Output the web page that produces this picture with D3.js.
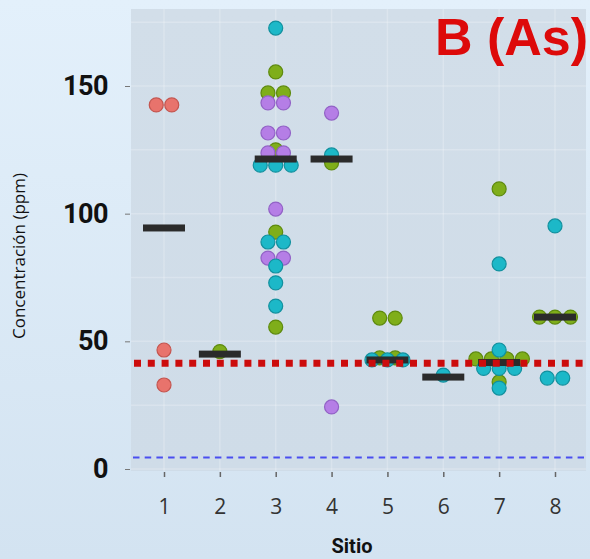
<!DOCTYPE html>
<html>
<head>
    <title>B (As)</title>
    <script src="https://cdnjs.cloudflare.com/ajax/libs/d3/7.8.5/d3.min.js"></script>
    <style>
        body { margin: 0; }
        #chart { width: 590px; height: 559px; }
        .ytick text { font-family: Roboto, "Liberation Sans", sans-serif; font-weight: bold; font-size: 27px; fill: #111; letter-spacing: -0.5px; }
        .xtick text { font-family: "Open Sans", "Noto Sans", sans-serif; font-size: 21px; fill: #333; }
    </style>
</head>
<body>
    <div id="chart"></div>
    <script>
// sites on the x axis
const sites = [1, 2, 3, 4, 5, 6, 7, 8];
const yTicks = [0, 50, 100, 150];

// measured points, [site, ppm]
const redPts = [
    [1, 142.6], [1, 142.6], [1, 46.6], [1, 32.9]
];
const greenPts = [
    [2, 46],
    [3, 155.5], [3, 147.3], [3, 147.3], [3, 125], [3, 92.8], [3, 55.6],
    [4, 119.9],
    [5, 59.1], [5, 59.1], [5, 43.5], [5, 43.5],
    [7, 109.7], [7, 43.1], [7, 43.1], [7, 43.1], [7, 43.1], [7, 34.1],
    [8, 59.5], [8, 59.5], [8, 59.5]
];
const purplePts = [
    [3, 143.4], [3, 143.4], [3, 131.6], [3, 131.6], [3, 123.8], [3, 123.8],
    [3, 101.8], [3, 82.6], [3, 82.6],
    [4, 139.4], [4, 24.3]
];
const cyanPts = [
    [3, 172.7], [3, 119], [3, 119], [3, 119], [3, 88.9], [3, 88.9],
    [3, 79.5], [3, 72.9], [3, 63.8],
    [4, 123],
    [5, 42.7], [5, 42.7], [5, 42.7],
    [6, 36.8],
    [7, 80.3], [7, 46.6], [7, 39.4], [7, 39.4], [7, 39.4], [7, 31.7],
    [8, 95.2], [8, 35.6], [8, 35.6]
];
// median bar per site
const medians = [94.4, 45, 121.4, 121.4, 42.7, 36, 41.7, 59.5];
// reference lines
const redLimit = 41.4;
const blueLimit = 4.5;

const series = [
    { pts: redPts, fill: '#e8736c', stroke: '#c4554f' },
    { pts: greenPts, fill: '#7fae1a', stroke: '#5e8a0e' },
    { pts: purplePts, fill: '#b57ee6', stroke: '#9262c6' },
    { pts: cyanPts, fill: '#1cb8c8', stroke: '#12909e' }
];

const W = 590, H = 559;
const panel = { x0: 131, x1: 586, y0: 9, y1: 471 };

const svg = d3.select('#chart').append('svg')
    .attr('width', W)
    .attr('height', H);

const defs = svg.append('defs');
const bg = defs.append('linearGradient').attr('id', 'bg').attr('x1', 0).attr('y1', 0).attr('x2', 0).attr('y2', 1);
bg.append('stop').attr('offset', 0).attr('stop-color', '#e3f0fb');
bg.append('stop').attr('offset', 1).attr('stop-color', '#d3e3f1');
const pg = defs.append('linearGradient').attr('id', 'pg').attr('x1', 0).attr('y1', 0).attr('x2', 0).attr('y2', 1);
pg.append('stop').attr('offset', 0).attr('stop-color', '#d2dee9');
pg.append('stop').attr('offset', 1).attr('stop-color', '#cfdce8');

svg.append('rect').attr('width', W).attr('height', H).attr('fill', 'url(#bg)');
svg.append('rect')
    .attr('x', panel.x0).attr('y', panel.y0)
    .attr('width', panel.x1 - panel.x0).attr('height', panel.y1 - panel.y0)
    .attr('fill', 'url(#pg)');

const x = d3.scaleLinear().domain([1, 8]).range([164, 555]);
const y = d3.scaleLinear().domain([0, 150]).range([469, 86]);

// faint grid
const grid = svg.append('g').attr('stroke', '#ffffff').attr('stroke-opacity', 0.22).attr('stroke-width', 1.5);
grid.selectAll('line.v').data(sites).join('line').attr('class', 'v')
    .attr('x1', d => x(d)).attr('x2', d => x(d))
    .attr('y1', panel.y0).attr('y2', panel.y1);
grid.selectAll('line.h').data(d3.range(0, 176, 25)).join('line').attr('class', 'h')
    .attr('x1', panel.x0).attr('x2', panel.x1)
    .attr('y1', d => y(d)).attr('y2', d => y(d));

// axes
const yAxis = svg.append('g')
    .attr('class', 'ytick')
    .attr('transform', 'translate(130,0)')
    .call(d3.axisLeft(y).tickValues(yTicks).tickSize(5).tickPadding(17).tickFormat(d3.format('d')));
yAxis.select('.domain').remove();
yAxis.selectAll('.tick line').attr('stroke', '#777');

const xAxis = svg.append('g')
    .attr('class', 'xtick')
    .attr('transform', 'translate(0,472)')
    .call(d3.axisBottom(x).tickValues(sites).tickSize(5).tickPadding(22).tickFormat(d3.format('d')));
xAxis.select('.domain').remove();
xAxis.selectAll('.tick line').attr('stroke', '#666').attr('stroke-width', 1.5);

// blue dashed line
svg.append('line')
    .attr('x1', panel.x0 + 2).attr('x2', panel.x1 - 2)
    .attr('y1', y(blueLimit)).attr('y2', y(blueLimit))
    .attr('stroke', '#4a4ef0').attr('stroke-width', 2)
    .attr('stroke-dasharray', '6.5,5.2');

// spread points that share the same site and value
const spacing = 15.5;
const groups = {};
series.forEach(s => s.pts.forEach(p => {
    const k = p[0] + '|' + p[1];
    groups[k] = (groups[k] || 0) + 1;
}));
const used = {};
function dodge(p) {
    const k = p[0] + '|' + p[1];
    const i = used[k] || 0;
    used[k] = i + 1;
    return (i - (groups[k] - 1) / 2) * spacing;
}

const r = 7;
series.forEach(s => {
    svg.append('g').selectAll('circle')
        .data(s.pts.map(p => ({ site: p[0], v: p[1], dx: dodge(p) })))
        .join('circle')
        .attr('cx', d => x(d.site) + d.dx)
        .attr('cy', d => y(d.v))
        .attr('r', r)
        .attr('fill', s.fill)
        .attr('stroke', s.stroke)
        .attr('stroke-width', 1.2);
});

// median bars
const barW = 42, barH = 7;
svg.append('g').selectAll('rect')
    .data(sites)
    .join('rect')
    .attr('x', d => x(d) - barW / 2)
    .attr('y', (d, i) => y(medians[i]) - barH / 2)
    .attr('width', barW)
    .attr('height', barH)
    .attr('fill', '#2b2b2b');

// red dotted line
svg.append('line')
    .attr('x1', panel.x0 + 3).attr('x2', panel.x1 - 3)
    .attr('y1', y(redLimit)).attr('y2', y(redLimit))
    .attr('stroke', '#cc0c0c').attr('stroke-width', 7)
    .attr('stroke-dasharray', '7,6.8');

// labels
svg.append('text')
    .attr('x', 588).attr('y', 55)
    .attr('text-anchor', 'end')
    .style('font-family', '"Liberation Sans", Arial, sans-serif')
    .style('font-weight', 'bold')
    .style('font-size', '52px')
    .style('fill', '#dd0a0a')
    .text('B (As)');

svg.append('text')
    .attr('transform', 'translate(25,256) rotate(-90)')
    .attr('text-anchor', 'middle')
    .style('font-family', '"Open Sans", "Noto Sans", sans-serif')
    .style('font-size', '17px')
    .style('fill', '#111')
    .text('Concentración (ppm)');

svg.append('text')
    .attr('x', 352).attr('y', 553)
    .attr('text-anchor', 'middle')
    .style('font-family', 'Roboto, "Liberation Sans", sans-serif')
    .style('font-weight', 'bold')
    .style('font-size', '20px')
    .style('fill', '#111')
    .text('Sitio');
    </script>
</body>
</html>
